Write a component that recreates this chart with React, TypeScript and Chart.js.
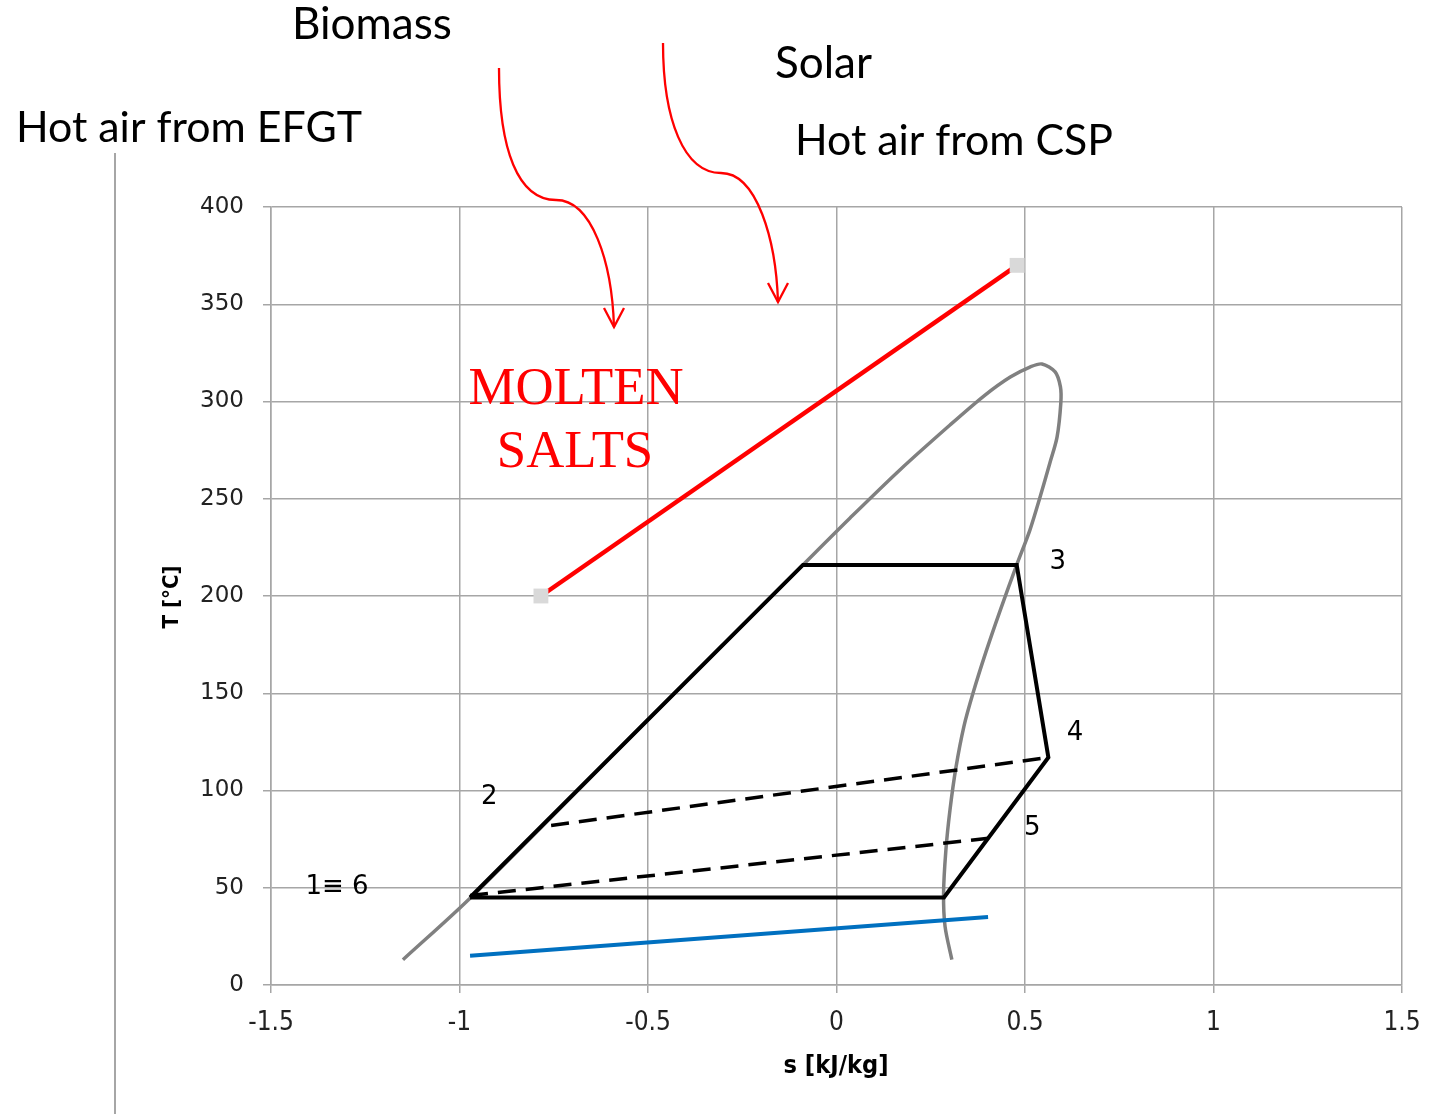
import { useEffect, useRef } from "react";
import { Chart, registerables } from "chart.js";

Chart.register(...registerables);

// ---------- data ----------
const xTickValues = [-1.5, -1, -0.5, 0, 0.5, 1, 1.5];
const yTickValues = [0, 50, 100, 150, 200, 250, 300, 350, 400];

// saturation dome (s, T)
const saturationS = [-1.15, -0.97, -0.5, -0.089, 0.036, 0.168, 0.301, 0.394, 0.461, 0.513, 0.545, 0.58, 0.594, 0.595, 0.585, 0.566, 0.54, 0.513, 0.478, 0.435, 0.396, 0.362, 0.338, 0.317, 0.301, 0.29, 0.284, 0.288, 0.306];
const saturationT = [13, 45, 136.5, 216, 240.1, 264.8, 287.9, 303.3, 312.6, 317.7, 319.3, 315.2, 307.5, 299.2, 281.7, 268.4, 250.9, 233.9, 216, 193, 171, 150, 133, 112, 90, 69, 47, 30, 13];

// ORC cycle 1 -> 2 -> 3 -> 4 -> 5 -> 6(=1)
const cycleS = [-0.972, -0.089, 0.478, 0.562, 0.285, -0.972];
const cycleT = [45, 216, 216, 117, 45, 45];

// dashed regenerator lines
const upperDashS = [-0.757, 0.562];
const upperDashT = [82, 117];
const lowerDashS = [-0.972, 0.403];
const lowerDashT = [46, 75.4];

// molten salts line
const moltenS = [-0.784, 0.479];
const moltenT = [200, 370];

// cooling water line
const coolingS = [-0.972, 0.402];
const coolingT = [15, 35];

// state point labels (anchored in data units)
const pointLabelText = ["2", "3", "4", "5", "1\u2261 6"];
const pointLabelS = [-0.921, 0.587, 0.633, 0.519, -1.325];
const pointLabelT = [96.6, 217.5, 129.6, 80.7, 50.4];

const toXY = (s: number[], t: number[]) => s.map((v, i) => ({ x: v, y: t[i] }));

const GRID = "#a6a6a6";

function fitText(
  ctx: CanvasRenderingContext2D,
  text: string,
  family: string,
  weight: string,
  baseSize: number,
  targetW: number
) {
  ctx.font = `${weight} ${baseSize}px ${family}`;
  const w = ctx.measureText(text).width;
  const size = (baseSize * targetW) / w;
  ctx.font = `${weight} ${size}px ${family}`;
}

function drawArrow(
  ctx: CanvasRenderingContext2D,
  p0: number[],
  c1: number[],
  c2: number[],
  k: number[],
  c3: number[],
  c4: number[],
  tip: number[]
) {
  ctx.beginPath();
  ctx.moveTo(p0[0], p0[1]);
  ctx.bezierCurveTo(c1[0], c1[1], c2[0], c2[1], k[0], k[1]);
  ctx.bezierCurveTo(c3[0], c3[1], c4[0], c4[1], tip[0], tip[1]);
  ctx.stroke();
  ctx.beginPath();
  ctx.moveTo(tip[0] - 10, tip[1] - 19);
  ctx.lineTo(tip[0], tip[1]);
  ctx.lineTo(tip[0] + 10, tip[1] - 19);
  ctx.stroke();
}

const annotationPlugin = {
  id: "annotations",
  afterDraw(chart: any) {
    const ctx: CanvasRenderingContext2D = chart.ctx;
    const xs = chart.scales.x;
    const ys = chart.scales.y;
    ctx.save();

    // left vertical rule
    ctx.strokeStyle = GRID;
    ctx.lineWidth = 2;
    ctx.beginPath();
    ctx.moveTo(115, 153);
    ctx.lineTo(115, 1114);
    ctx.stroke();

    // headings
    const sansFam = "Lato, 'Open Sans', sans-serif";
    ctx.fillStyle = "#000";
    ctx.textAlign = "left";
    ctx.textBaseline = "alphabetic";
    fitText(ctx, "Biomass", sansFam, "normal", 46, 160);
    ctx.fillText("Biomass", 292, 39);
    fitText(ctx, "Hot air from EFGT", sansFam, "normal", 46, 346);
    ctx.fillText("Hot air from EFGT", 16, 142);
    fitText(ctx, "Solar", sansFam, "normal", 46, 97);
    ctx.fillText("Solar", 775, 78);
    fitText(ctx, "Hot air from CSP", sansFam, "normal", 46, 318);
    ctx.fillText("Hot air from CSP", 795, 155);

    // arrows
    ctx.strokeStyle = "#ff0000";
    ctx.lineWidth = 2.3;
    drawArrow(ctx, [499, 68], [499, 150], [518, 200], [556, 200], [592, 200], [612, 262], [614, 327]);
    drawArrow(ctx, [663, 43], [663, 120], [684, 173], [721, 173], [757, 173], [776, 240], [778, 302]);

    // MOLTEN SALTS
    ctx.fillStyle = "#ff0000";
    ctx.textAlign = "center";
    const serif = "'Liberation Serif', 'DejaVu Serif', serif";
    fitText(ctx, "MOLTEN", serif, "normal", 52, 215);
    ctx.fillText("MOLTEN", 576, 404);
    ctx.fillText("SALTS", 575, 467);

    // axis titles
    ctx.fillStyle = "#000";
    const cond = "'Liberation Sans Narrow', 'DejaVu Sans Condensed', 'Arial Narrow', sans-serif";
    ctx.textBaseline = "middle";
    fitText(ctx, "s [kJ/kg]", cond, "bold", 24, 105);
    ctx.fillText("s [kJ/kg]", 836, 1066);
    ctx.save();
    ctx.translate(172, 597);
    ctx.rotate(-Math.PI / 2);
    fitText(ctx, "T [\u00b0C]", cond, "bold", 24, 63);
    ctx.fillText("T [\u00b0C]", 0, 0);
    ctx.restore();

    // state point labels
    ctx.fillStyle = "#000";
    ctx.textAlign = "center";
    ctx.textBaseline = "middle";
    ctx.font = "normal 26px 'DejaVu Sans', sans-serif";
    pointLabelText.forEach((t, i) => {
      ctx.fillText(t, xs.getPixelForValue(pointLabelS[i]), ys.getPixelForValue(pointLabelT[i]));
    });

    ctx.restore();
  },
};

export default function App() {
  const ref = useRef<HTMLCanvasElement | null>(null);

  useEffect(() => {
    if (!ref.current) return;
    const chart = new Chart(ref.current, {
      type: "scatter",
      data: {
        datasets: [
          {
            label: "cycle",
            data: toXY(cycleS, cycleT),
            showLine: true,
            borderColor: "#000",
            borderWidth: 4,
            pointRadius: 0,
            borderJoinStyle: "miter",
            order: 1,
          },
          {
            label: "upper regen",
            data: toXY(upperDashS, upperDashT),
            showLine: true,
            borderColor: "#000",
            borderWidth: 3.5,
            borderDash: [18, 10],
            pointRadius: 0,
            order: 2,
          },
          {
            label: "lower regen",
            data: toXY(lowerDashS, lowerDashT),
            showLine: true,
            borderColor: "#000",
            borderWidth: 3.5,
            borderDash: [18, 10],
            pointRadius: 0,
            order: 3,
          },
          {
            label: "saturation",
            data: toXY(saturationS, saturationT),
            showLine: true,
            borderColor: "#808080",
            borderWidth: 3.5,
            pointRadius: 0,
            tension: 0.3,
            order: 6,
          },
          {
            label: "molten salts",
            data: toXY(moltenS, moltenT),
            showLine: true,
            borderColor: "#ff0000",
            borderWidth: 4.5,
            pointStyle: "rect",
            pointRadius: 10.5,
            pointBackgroundColor: "#d9d9d9",
            pointBorderColor: "#d9d9d9",
            pointBorderWidth: 0,
            order: 4,
          },
          {
            label: "cooling",
            data: toXY(coolingS, coolingT),
            showLine: true,
            borderColor: "#0070c0",
            borderWidth: 4,
            pointRadius: 0,
            order: 5,
          },
        ],
      },
      options: {
        animation: false,
        responsive: false,
        events: [],
        layout: { padding: { top: 207, right: 31, bottom: 0, left: 0 } },
        plugins: {
          legend: { display: false },
          tooltip: { enabled: false },
          title: { display: false },
        },
        scales: {
          x: {
            type: "linear",
            min: -1.5,
            max: 1.5,
            afterBuildTicks: (scale: any) => {
              scale.ticks = xTickValues.map((v) => ({ value: v }));
            },
            afterFit: (scale: any) => {
              scale.height = 129;
              scale.paddingLeft = 0;
              scale.paddingRight = 0;
            },
            grid: { color: GRID, lineWidth: 1.5, drawTicks: true, tickLength: 8, tickColor: GRID },
            border: { display: true, color: GRID, width: 1.5 },
            ticks: {
              padding: 15,
              color: "#222",
              font: { family: "'Liberation Sans Narrow', 'DejaVu Sans Condensed', 'Arial Narrow', sans-serif", size: 26 },
              callback: (v: any) => String(v),
              maxRotation: 0,
              autoSkip: false,
            },
          },
          y: {
            type: "linear",
            min: 0,
            max: 400,
            afterBuildTicks: (scale: any) => {
              scale.ticks = yTickValues.map((v) => ({ value: v }));
            },
            afterFit: (scale: any) => {
              scale.width = 271;
              scale.paddingTop = 0;
              scale.paddingBottom = 0;
            },
            grid: { color: GRID, lineWidth: 1.5, drawTicks: true, tickLength: 8, tickColor: GRID },
            border: { display: true, color: GRID, width: 1.5 },
            ticks: {
              padding: 19,
              color: "#222",
              font: { family: "'DejaVu Sans', sans-serif", size: 23 },
              callback: (v: any) => String(v),
              autoSkip: false,
            },
          },
        },
      },
      plugins: [annotationPlugin],
    } as any);
    return () => chart.destroy();
  }, []);

  return (
    <div style={{ position: "absolute", left: 0, top: 0, width: 1433, height: 1114, background: "#fff" }}>
      <canvas ref={ref} width={1433} height={1114} style={{ display: "block", width: 1433, height: 1114 }} />
    </div>
  );
}
